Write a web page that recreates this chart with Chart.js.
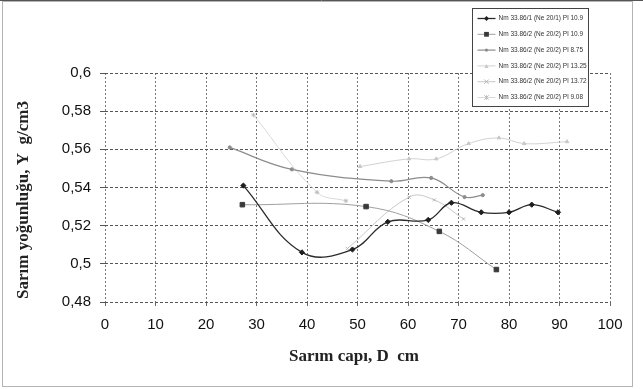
<!DOCTYPE html>
<html>
<head>
<meta charset="utf-8">
<script src="https://cdn.jsdelivr.net/npm/chart.js@4.4.0/dist/chart.umd.min.js"></script>
<style>
  html, body { margin: 0; padding: 0; background: #fff; }
  #wrap { width: 643px; height: 389px; }
</style>
</head>
<body>
<div id="wrap"><canvas id="chart" width="643" height="389"></canvas></div>
<script>
// series names as printed in the legend
const seriesLabels = [
    'Nm 33.86/1 (Ne 20/1) Pl 10.9',
    'Nm 33.86/2 (Ne 20/2) Pl 10.9',
    'Nm 33.86/2 (Ne 20/2) Pl 8.75',
    'Nm 33.86/2 (Ne 20/2) Pl 13.25',
    'Nm 33.86/2 (Ne 20/2) Pl 13.72',
    'Nm 33.86/2 (Ne 20/2) Pl 9.08',
];

// values (D in cm, density in g/cm3)
const s1X = [27.4, 39, 49, 56, 64, 68.6, 74.5, 80, 84.5, 89.7];
const s1Y = [0.541, 0.506, 0.5075, 0.522, 0.523, 0.532, 0.527, 0.527, 0.531, 0.527];
const s2X = [27.2, 51.7, 66.2, 77.5];
const s2Y = [0.531, 0.530, 0.517, 0.497];
const s3X = [24.7, 37, 56.7, 64.6, 71.2, 74.8];
const s3Y = [0.561, 0.5495, 0.5433, 0.545, 0.535, 0.536];
const s4X = [50.5, 60.2, 65.6, 72, 78, 83, 91.5];
const s4Y = [0.551, 0.555, 0.555, 0.563, 0.566, 0.563, 0.564];
const s5X = [48, 60.2, 65.2, 71];
const s5Y = [0.508, 0.535, 0.5335, 0.5235];
const s6X = [29.4, 42, 47.7];
const s6Y = [0.578, 0.5375, 0.533];

const xTicks = [0, 10, 20, 30, 40, 50, 60, 70, 80, 90, 100];
const yTicks = [0.48, 0.5, 0.52, 0.54, 0.56, 0.58, 0.6];

const xTitle = 'Sarım capı, D  cm';
const yTitle = 'Sarım yoğunluğu, Y  g/cm3';

const styles = [
    { line: '#2a2a2a', width: 1.3, point: 'rectRot', radius: 2.6, fill: '#1e1e1e' },
    { line: '#a0a0a0', width: 1, point: 'rect', radius: 3.2, fill: '#3a3a3a' },
    { line: '#8c8c8c', width: 1.2, point: 'circle', radius: 1.6, fill: '#8c8c8c' },
    { line: '#d2d2d2', width: 1, point: 'triangle', radius: 2, fill: '#c8c8c8' },
    { line: '#c8c8c8', width: 1, point: 'crossRot', radius: 2.2, fill: '#b8b8b8' },
    { line: '#dadada', width: 1, point: 'star', radius: 2.2, fill: '#bdbdbd' },
];

function toPoints(xs, ys) {
    return xs.map((x, i) => ({ x: x, y: ys[i] }));
}

const allX = [s1X, s2X, s3X, s4X, s5X, s6X];
const allY = [s1Y, s2Y, s3Y, s4Y, s5Y, s6Y];

const datasets = seriesLabels.map((label, i) => ({
    label: label,
    data: toPoints(allX[i], allY[i]),
    borderColor: styles[i].line,
    borderWidth: styles[i].width,
    backgroundColor: styles[i].fill,
    pointStyle: styles[i].point,
    pointRadius: styles[i].radius,
    pointBorderColor: styles[i].fill,
    pointBackgroundColor: styles[i].fill,
    pointBorderWidth: 1,
    tension: 0.4,
    fill: false,
}));

function drawMarker(ctx, style, x, y, r) {
    ctx.save();
    ctx.fillStyle = style.fill;
    ctx.strokeStyle = style.fill;
    ctx.lineWidth = 1;
    ctx.beginPath();
    if (style.point === 'rect') {
        ctx.rect(x - r, y - r, r * 2, r * 2);
        ctx.fill();
    } else if (style.point === 'rectRot') {
        ctx.moveTo(x, y - r); ctx.lineTo(x + r, y); ctx.lineTo(x, y + r); ctx.lineTo(x - r, y);
        ctx.closePath(); ctx.fill();
    } else if (style.point === 'triangle') {
        ctx.moveTo(x, y - r); ctx.lineTo(x + r, y + r); ctx.lineTo(x - r, y + r);
        ctx.closePath(); ctx.fill();
    } else if (style.point === 'crossRot' || style.point === 'star') {
        ctx.moveTo(x - r, y - r); ctx.lineTo(x + r, y + r);
        ctx.moveTo(x + r, y - r); ctx.lineTo(x - r, y + r);
        if (style.point === 'star') { ctx.moveTo(x, y - r); ctx.lineTo(x, y + r); }
        ctx.stroke();
    } else {
        ctx.arc(x, y, r, 0, Math.PI * 2);
        ctx.fill();
    }
    ctx.restore();
}

const decorPlugin = {
    id: 'decor',
    beforeDraw(chart) {
        const ctx = chart.ctx;
        ctx.save();
        ctx.fillStyle = '#fff';
        ctx.fillRect(0, 0, chart.width, chart.height);
        ctx.strokeStyle = '#b4b4b4';
        ctx.lineWidth = 1;
        ctx.strokeRect(2.5, 1.5, 630, 385);
        ctx.strokeStyle = '#555';
        ctx.beginPath();
        ctx.moveTo(0, 0.5);
        ctx.lineTo(chart.width, 0.5);
        ctx.stroke();
        ctx.restore();
    },
    afterDraw(chart) {
        const ctx = chart.ctx;
        ctx.save();

        // axis titles
        ctx.fillStyle = '#222';
        ctx.font = 'bold 17px "Liberation Serif", "DejaVu Serif", serif';
        ctx.textAlign = 'center';
        ctx.textBaseline = 'middle';
        ctx.fillText(xTitle, 354, 357);
        ctx.save();
        ctx.translate(24, 200);
        ctx.rotate(-Math.PI / 2);
        ctx.fillText(yTitle, 0, 0);
        ctx.restore();

        // legend box over the top right of the plot
        const box = { x: 472.5, y: 8.5, w: 116, h: 98 };
        ctx.fillStyle = '#fff';
        ctx.fillRect(box.x, box.y, box.w, box.h);
        ctx.strokeStyle = '#444';
        ctx.lineWidth = 1;
        ctx.strokeRect(box.x, box.y, box.w, box.h);
        ctx.font = '6.5px "Liberation Sans", Arial, sans-serif';
        ctx.textAlign = 'left';
        ctx.textBaseline = 'middle';
        seriesLabels.forEach((label, i) => {
            const y = box.y + 10 + i * 15.8;
            ctx.strokeStyle = styles[i].line;
            ctx.lineWidth = styles[i].width;
            ctx.beginPath();
            ctx.moveTo(box.x + 5, y);
            ctx.lineTo(box.x + 23, y);
            ctx.stroke();
            drawMarker(ctx, styles[i], box.x + 14, y, Math.min(styles[i].radius, 2.4));
            ctx.fillStyle = '#333';
            ctx.fillText(label, box.x + 26, y);
        });
        ctx.restore();
    },
};

const ctx = document.getElementById('chart').getContext('2d');
new Chart(ctx, {
    type: 'line',
    data: { datasets: datasets },
    plugins: [decorPlugin],
    options: {
        responsive: false,
        animation: false,
        layout: { padding: { top: 73, right: 33, left: 0, bottom: 0 } },
        plugins: {
            legend: { display: false },
            tooltip: { enabled: false },
        },
        scales: {
            x: {
                type: 'linear',
                min: xTicks[0],
                max: xTicks[xTicks.length - 1],
                afterFit: (s) => { s.height = 87; },
                afterBuildTicks: (s) => { s.ticks = xTicks.map(v => ({ value: v })); },
                ticks: {
                    color: '#111',
                    padding: 10,
                    maxRotation: 0,
                    font: { family: '"Liberation Sans", Arial, sans-serif', size: 15 },
                    callback: (v) => String(v),
                },
                grid: {
                    color: '#777',
                    lineWidth: 1,
                    tickLength: 4,
                    tickColor: '#666',
                },
                border: { display: false, dash: [2, 2] },
            },
            y: {
                type: 'linear',
                min: yTicks[0],
                max: yTicks[yTicks.length - 1],
                afterFit: (s) => { s.width = 105; },
                afterBuildTicks: (s) => { s.ticks = yTicks.map(v => ({ value: v })); },
                ticks: {
                    color: '#111',
                    padding: 9,
                    font: { family: '"Liberation Sans", Arial, sans-serif', size: 15 },
                    callback: (v) => String(Number(v.toFixed(2))).replace('.', ','),
                },
                grid: {
                    color: '#555',
                    lineWidth: 1,
                    tickLength: 5,
                    tickColor: '#555',
                },
                border: { display: false, dash: [3, 2] },
            },
        },
    },
});
</script>
</body>
</html>
